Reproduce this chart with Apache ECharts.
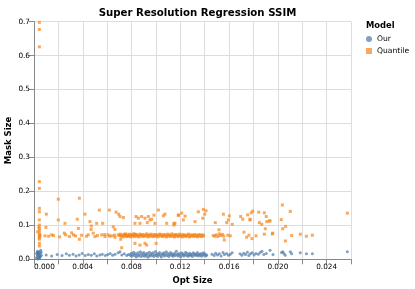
<!DOCTYPE html>
<html><head><meta charset="utf-8">
<script src="https://cdn.jsdelivr.net/npm/echarts@6/dist/echarts.min.js"></script>
<style>html,body{margin:0;padding:0;background:#fff}#c{width:415px;height:289px}</style>
</head><body><div id="c"></div>
<script>
var seriesNames = ["Our", "Quantile"];
var xTicks = [0, 0.026, 0.002];
var yTicks = [0, 0.7, 0.1];

var quantileX = [
0.00044,0.00044,0.00044,0.00044,0.00044,0.00044,0.00044,0.00044,0.00044,0.00044,0.00044,0.00044,0.00044,0.00044,0.00044,0.00044,0.00044,0.00044,0.0003,0.0005,0.0004,
0.00101,0.00098,0.0009,0.00145,0.00199,0.00199,0.00249,0.00254,0.0029,0.00309,0.00323,0.00355,0.00372,0.00364,0.00372,0.00418,0.00459,0.0047,0.00468,0.00445,0.00486,0.005,0.00514,0.00563,0.00536,0.00555,0.00582,0.00609,0.00618,0.0065,0.00664,0.00637,0.00664,0.00691,0.00673,0.00695,0.00705,0.00711,0.00719,0.00733,0.00746,0.00773,0.008,0.00828,0.00828,0.00869,0.0091,0.00837,0.00856,0.00883,0.0091,0.00938,0.00951,0.00828,0.00869,0.00929,0.00992,0.00965,0.00984,0.0102,0.01061,0.01074,0.01088,0.01148,0.01184,0.00924,0.01001,
0.01184,0.01211,0.01239,0.01225,0.01156,0.01148,0.01348,0.01389,0.014,0.01411,0.01384,0.01321,0.01487,0.01517,0.01553,0.01581,0.01602,0.01594,0.01626,0.0152,0.01561,0.01695,0.01712,0.01753,0.01772,0.01782,0.01794,0.01772,0.01722,0.01763,0.01744,0.01788,0.01821,0.01843,0.01889,0.01905,0.01848,0.01868,0.01909,0.0193,0.01897,0.01889,0.01955,
0.02037,0.02102,0.02028,0.02064,0.0204,0.01936,0.01958,0.02062,0.02113,0.02184,0.02234,0.02283,0.0257,
0.00702,0.00708,0.00716,0.00724,0.00731,0.00738,0.00745,0.00752,0.00758,0.00766,0.00775,0.00781,0.00789,0.00795,0.00803,0.00811,0.00818,0.00824,0.00832,0.0084,0.00846,0.00853,0.00861,0.00868,0.00874,0.00882,0.00889,0.00895,0.00903,0.0091,0.00917,0.00925,0.00931,0.00938,0.00946,0.00953,0.0096,0.00967,0.00974,0.00981,0.00989,0.00996,0.01003,0.0101,0.01017,0.01024,0.01031,0.01038,0.01045,0.01052,0.0106,0.01066,0.01073,0.01081,0.01088,0.01095,0.01102,0.0111,0.01117,0.01124,0.01131,0.01139,0.01146,0.01152,0.0116,0.01167,0.01174,0.01181,0.01188,0.01196,0.01203,0.0121,0.01217,0.01225,0.01232,0.01239,0.01246,0.01253,0.0126,0.01268,0.01275,0.01282,0.0129,0.01297,0.01304,0.01311,0.01318,0.01326,0.01333,0.0134,0.01348,0.01355,0.01362,0.01369,0.01377,0.01384,0.01391,
0.0147,0.01482,0.01495,0.01508,0.0153,0.01545,0.01556,0.0159,0.0161,
0.0012,0.0016,0.0021,0.0026,0.0034,0.0039,0.0043,0.0052,0.0058,0.0062,0.0066
];
var quantileY = [
0.698,0.677,0.626,0.229,0.209,0.150,0.140,0.116,0.101,0.091,0.085,0.077,0.072,0.067,0.063,0.059,0.047,0.039,0.081,0.070,0.095,
0.133,0.094,0.069,0.072,0.177,0.116,0.077,0.106,0.067,0.078,0.072,0.118,0.180,0.091,0.059,0.133,0.111,0.098,0.088,0.072,0.077,0.067,0.106,0.106,0.145,0.072,0.067,0.072,0.145,0.096,0.088,0.069,0.065,0.072,0.139,0.133,0.126,0.059,0.034,0.123,0.072,0.069,0.072,0.074,0.047,0.042,0.047,0.126,0.121,0.126,0.121,0.126,0.116,0.106,0.106,0.108,0.106,0.118,0.130,0.145,0.128,0.133,0.106,0.106,0.130,0.042,0.047,
0.130,0.136,0.127,0.116,0.106,0.101,0.140,0.147,0.133,0.143,0.121,0.111,0.108,0.087,0.133,0.108,0.128,0.116,0.103,0.075,0.057,0.126,0.118,0.131,0.118,0.137,0.142,0.116,0.080,0.071,0.065,0.061,0.069,0.139,0.137,0.126,0.108,0.103,0.111,0.113,0.090,0.074,0.075,
0.160,0.141,0.117,0.097,0.090,0.113,0.077,0.054,0.070,0.074,0.068,0.071,0.136,
0.070,0.074,0.068,0.071,0.066,0.073,0.069,0.075,0.067,0.071,0.068,0.074,0.070,0.066,0.072,0.069,0.075,0.067,0.071,0.073,0.068,0.070,0.066,0.074,0.071,0.069,0.073,0.067,0.070,0.072,0.068,0.075,0.070,0.066,0.072,0.069,0.074,0.068,0.071,0.067,0.073,0.070,0.068,0.072,0.066,0.071,0.074,0.069,0.072,0.067,0.070,0.073,0.068,0.071,0.066,0.074,0.069,0.072,0.067,0.070,0.075,0.068,0.071,0.066,0.073,0.069,0.072,0.067,0.070,0.074,0.068,0.071,0.066,0.073,0.069,0.070,0.067,0.072,0.069,0.074,0.066,0.071,0.068,0.072,0.070,0.067,0.073,0.069,0.071,0.066,0.070,0.073,0.068,0.071,0.067,0.072,0.069,
0.070,0.068,0.072,0.067,0.070,0.073,0.068,0.071,0.069,
0.068,0.070,0.066,0.072,0.069,0.071,0.068,0.070,0.073,0.068,0.071
];

var ourX = [
0.0002,0.00025,0.0003,0.00022,0.00035,0.00028,0.0004,0.00045,0.00038,0.0005,0.00042,0.00055,0.00032,0.00048,0.0006,0.00035,0.00052,0.00026,0.00058,0.00044,
0.001,0.00145,0.0019,0.0023,0.00265,0.0029,0.0032,0.00345,0.0037,0.00395,0.0042,0.00445,0.0047,0.00495,0.00515,0.0054,0.0056,0.00585,0.00605,0.00625,0.00645,0.00665,0.0069,0.00705,0.0072,0.0074,0.0076,0.00775,
0.0079,0.00797,0.00803,0.0081,0.00818,0.00824,0.00831,0.00838,0.00845,0.00851,0.00858,0.00866,0.00872,0.00879,0.00886,0.00893,0.009,0.00906,0.00913,0.0092,0.00927,0.00934,0.00941,0.00947,0.00954,0.00961,0.00968,0.00975,0.00982,0.00989,0.00996,0.01002,0.01009,0.01016,0.01023,0.0103,0.01037,0.01044,0.01051,0.01058,0.01065,0.01071,0.01078,0.01085,0.01092,0.01099,0.01106,0.01113,0.0112,0.01127,0.01134,0.0114,0.01147,0.01154,0.01161,0.01168,0.01175,0.01182,0.01189,0.01196,0.01203,0.01209,0.01216,0.01223,0.0123,0.01237,0.01244,0.01251,0.01258,0.01265,0.01272,0.01278,0.01285,0.01292,0.01299,0.01306,0.01313,0.0132,0.01327,0.01334,0.01341,0.01347,0.01354,0.01361,0.01368,0.01375,0.01382,0.01389,0.01396,0.01403,0.0141,0.01417,
0.0146,0.01478,0.0149,0.01505,0.0152,0.01535,0.0155,0.01562,0.0158,0.01595,0.0161,0.01625,
0.0169,0.01705,0.0172,0.01735,0.0175,0.01762,0.01775,0.0179,0.01805,0.0182,0.0184,0.01855,0.0187,0.01885,0.01905,0.01936,0.0196,
0.0203,0.0204,0.0205,0.0206,0.02102,0.02113,0.02184,0.02234,0.02283,0.0257
];
var ourY = [
0.003,0.008,0.012,0.016,0.020,0.024,0.005,0.010,0.014,0.018,0.022,0.027,0.001,0.006,0.012,0.017,0.009,0.019,0.021,0.003,
0.013,0.010,0.014,0.011,0.016,0.012,0.015,0.010,0.013,0.017,0.011,0.014,0.012,0.016,0.010,0.013,0.015,0.011,0.014,0.017,0.012,0.015,0.019,0.022,0.013,0.016,0.011,0.014,
0.012,0.018,0.009,0.015,0.021,0.011,0.016,0.007,0.013,0.019,0.010,0.014,0.022,0.008,0.017,0.012,0.020,0.009,0.015,0.011,0.018,0.006,0.013,0.021,0.010,0.016,0.012,0.019,0.008,0.014,0.023,0.011,0.017,0.009,0.015,0.020,0.012,0.007,0.016,0.013,0.019,0.010,0.015,0.022,0.011,0.017,0.008,0.014,0.020,0.012,0.016,0.009,0.013,0.018,0.011,0.024,0.015,0.010,0.017,0.013,0.007,0.019,0.012,0.016,0.010,0.014,0.021,0.011,0.017,0.009,0.013,0.018,0.012,0.015,0.008,0.019,0.013,0.016,0.011,0.014,0.020,0.010,0.015,0.012,0.017,0.009,0.014,0.019,0.012,0.016,0.010,0.013,
0.015,0.011,0.018,0.013,0.016,0.010,0.020,0.014,0.017,0.012,0.015,0.019,
0.016,0.012,0.018,0.014,0.021,0.011,0.016,0.019,0.013,0.017,0.015,0.020,0.024,0.014,0.017,0.027,0.014,
0.020,0.022,0.017,0.012,0.022,0.016,0.019,0.016,0.016,0.022
];

function zip(a, b) { return a.map(function (v, i) { return [v, b[i]]; }); }

var FONT = '"DejaVu Sans", sans-serif';
var chart = echarts.init(document.getElementById('c'), null, {renderer: 'canvas'});
chart.setOption({
  animation: false,
  backgroundColor: '#fff',
  title: {
    text: 'Super Resolution Regression SSIM',
    left: 192.5, top: 3, textAlign: 'center',
    textStyle: {fontFamily: FONT, fontSize: 10.2, fontWeight: 'bold', color: '#000'}
  },
  grid: {left: 34, top: 21.7, right: 64, bottom: 29.7},
  legend: {
    orient: 'vertical', left: 366, top: 35, padding: 0,
    itemWidth: 6, itemHeight: 6, itemGap: 4,
    data: [{name: 'Our', icon: 'circle'}, {name: 'Quantile', icon: 'rect'}],
    textStyle: {fontFamily: FONT, fontSize: 7.6, color: '#000', padding: [0, 0, 0, 0]}
  },
  graphic: [
    {type: 'text', left: 366, top: 22, style: {text: 'Model', fontFamily: FONT, fontSize: 8.4, fontWeight: 'bold', fill: '#000'}},
    {type: 'text', x: 192.5, y: 281, style: {text: 'Opt Size', fontFamily: FONT, fontSize: 8.5, fontWeight: 'bold', fill: '#000', align: 'center', verticalAlign: 'middle'}},
    {type: 'text', x: 8.5, y: 140.5, rotation: Math.PI / 2, style: {text: 'Mask Size', fontFamily: FONT, fontSize: 8.5, fontWeight: 'bold', fill: '#000', align: 'center', verticalAlign: 'middle'}}
  ],
  xAxis: {
    type: 'value', min: xTicks[0], max: xTicks[1], interval: xTicks[2],
    axisLine: {onZero: false, lineStyle: {color: '#888', width: 1}},
    axisTick: {length: 5, lineStyle: {color: '#888'}},
    splitLine: {show: true, lineStyle: {color: '#ddd', width: 1}},
    axisLabel: {
      margin: 4, fontFamily: FONT, fontSize: 7.3, color: '#000', alignMinLabel: 'left', showMaxLabel: true,
      formatter: function (v) { return Math.round(v / 0.002) % 2 === 0 && v < 0.0255 ? v.toFixed(3) : ''; }
    }
  },
  yAxis: {
    type: 'value', min: yTicks[0], max: yTicks[1], interval: yTicks[2],
    axisLine: {show: true, onZero: false, lineStyle: {color: '#888', width: 1}},
    axisTick: {show: true, length: 5, lineStyle: {color: '#888'}},
    splitLine: {show: true, lineStyle: {color: '#ddd', width: 1}},
    axisLabel: {margin: 4, fontFamily: FONT, fontSize: 7.3, color: '#000', formatter: function (v) { return v.toFixed(1); }}
  },
  series: [
    {name: seriesNames[0], type: 'scatter', symbol: 'circle', symbolSize: 3, data: zip(ourX, ourY),
     itemStyle: {color: '#4c78a8', opacity: 0.7}},
    {name: seriesNames[1], type: 'scatter', symbol: 'rect', symbolSize: 3, data: zip(quantileX, quantileY),
     itemStyle: {color: '#f58518', opacity: 0.7}}
  ]
});
</script></body></html>
